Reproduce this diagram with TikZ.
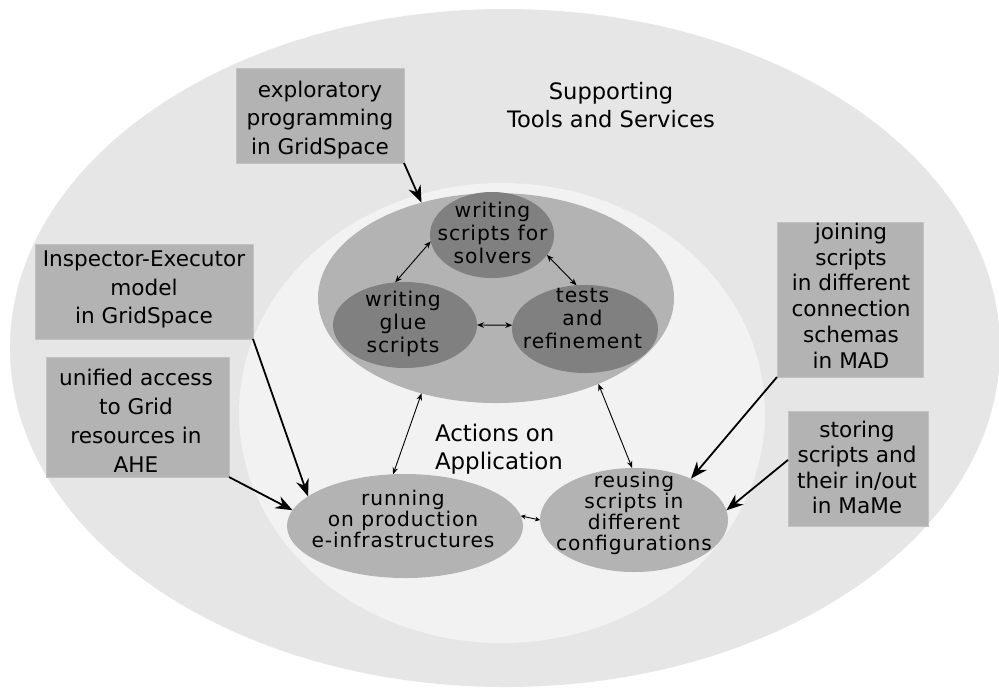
\documentclass[tikz,border=0pt]{standalone}
\usepackage{fontspec}
\setmainfont{DejaVu Sans}
\newfontfamily\myspaced[LetterSpace=4.6]{DejaVu Sans}
\usetikzlibrary{shapes.geometric,arrows.meta}
\definecolor{outerc}{HTML}{E6E6E6}
\definecolor{midc}{HTML}{F2F2F2}
\definecolor{grpc}{HTML}{B3B3B3}
\definecolor{innc}{HTML}{808080}
\definecolor{boxc}{HTML}{B3B3B3}
\definecolor{boxline}{HTML}{C2C2C2}
\newcommand\mynolsk{\lineskiplimit=-10pt\relax}
\begin{document}
\begin{tikzpicture}[x=0.5pt,y=-0.5pt,
  ell/.style={ellipse, inner sep=0pt, outer sep=0pt, draw=none},
  tbox/.style={rectangle, fill=boxc, draw=boxline, line width=0.5pt, inner sep=0pt, outer sep=0pt},
  txt/.style={inner sep=0pt, outer sep=0pt, align=center, text=black},
  boxfont/.style={font={\fontsize{10.8}{#1}\selectfont\mynolsk}},
  innfont/.style={font={\myspaced\fontsize{10.15}{11.5}\selectfont\mynolsk}},
  lowfont/.style={font={\myspaced\fontsize{10.1}{10.5}\selectfont\mynolsk}},
  bigarrow/.style={-{Stealth[length=8.5pt,width=6.5pt,inset=2.8pt]}, line width=0.9pt},
  smallarrow/.style={{Stealth[length=3.5pt,width=2.8pt]}-{Stealth[length=3.5pt,width=2.8pt]}, line width=0.45pt},
  tinyarrow/.style={{Stealth[length=2.5pt,width=2.4pt]}-{Stealth[length=2.5pt,width=2.4pt]}, line width=0.45pt}
]
\fill[white] (0,0) rectangle (999,692);
\useasboundingbox (0,0) rectangle (999,692);

% background ellipses
\node[ell, fill=outerc, minimum width=495pt, minimum height=339pt] (outer) at (505,348) {};
\node[ell, fill=midc, minimum width=263pt, minimum height=230pt] (mid) at (502,413) {};
\node[ell, fill=grpc, minimum width=178pt, minimum height=105pt] (group) at (496,298) {};

% inner ellipses
\node[ell, fill=innc, minimum width=62pt, minimum height=43pt] (solv) at (492,235) {};
\node[ell, fill=innc, minimum width=72pt, minimum height=43pt] (glue) at (405,325) {};
\node[ell, fill=innc, minimum width=73pt, minimum height=44pt] (tests) at (585,329) {};

% lower ellipses
\node[ell, fill=grpc, minimum width=118pt, minimum height=52pt] (run) at (405,526) {};
\node[ell, fill=grpc, minimum width=94pt, minimum height=52pt] (reus) at (634,520) {};

% boxes
\node[tbox, minimum width=84pt, minimum height=47.5pt] (expl) at (320,115.5) {};
\node[tbox, minimum width=109pt, minimum height=47.5pt] (insp) at (144,291.5) {};
\node[tbox, minimum width=91.5pt, minimum height=60pt] (unif) at (137.5,417) {};
\node[tbox, minimum width=73pt, minimum height=77.5pt] (join) at (850,299.5) {};
\node[tbox, minimum width=70pt, minimum height=57.5pt] (stor) at (858,468.5) {};

% texts
\node[txt, font=\fontsize{11.3}{14}\selectfont] (supp-t) at (611,105.5) {Supporting\\Tools and Services};
\node[txt, anchor=west, align=left, font=\fontsize{11.45}{14}\selectfont] (act-t) at (435,449) {Actions on\\Application};

\node[txt, boxfont=14.25] (expl-t) at (320,120) {exploratory\\programming\\in GridSpace};
\node[txt, boxfont=14.15] (insp-t) at (144,289.5) {Inspector-Executor\\model\\in GridSpace};
\node[txt, boxfont=14.5] (unif-t) at (136,420.5) {unified access\\to Grid\\resources in\\AHE};
\node[txt, boxfont=12.9] (join-t) at (851,295.5) {joining\\scripts\\in different\\connection\\schemas\\in MAD};
\node[txt, boxfont=12.65] (stor-t) at (857,467.5) {storing\\scripts and\\their in/out\\in MaMe};

\node[txt, innfont] (solv-t) at (492.5,232.5) {writing\\scripts for\\solvers};
\node[txt, innfont] (glue-t) at (403,324) {writing\\glue\\scripts};
\node[txt, innfont] (tests-t) at (582.5,318.5) {tests\\and\\refinement};

\node[txt, lowfont] (run-t) at (403,518.5) {running\\on production\\e-infrastructures};
\node[txt, lowfont] (reus-t) at (634,513.5) {reusing\\scripts in\\different\\configurations};

% thick arrows from boxes
\draw[bigarrow] (expl.south east) -- (group.128.5);
\draw[bigarrow] (insp.south east) -- (run.163.2);
\draw[bigarrow] (unif.south east) -- (run.172.4);
\draw[bigarrow] (join.south west) -- (reus.36.9);
\draw[bigarrow] (stor.173) -- (reus.6);

% thin double arrows
\draw[smallarrow] (solv.186.5) -- (glue.103);
\draw[smallarrow] (solv.340.7) -- (tests.101);
\draw[smallarrow] (glue.0) -- (tests.177);
\draw[smallarrow] (group.232.7) -- (run.103.2);
\draw[smallarrow] (group.320.7) -- (reus.92);
\draw[tinyarrow] (run.5) -- (reus.180);
\end{tikzpicture}
\end{document}
